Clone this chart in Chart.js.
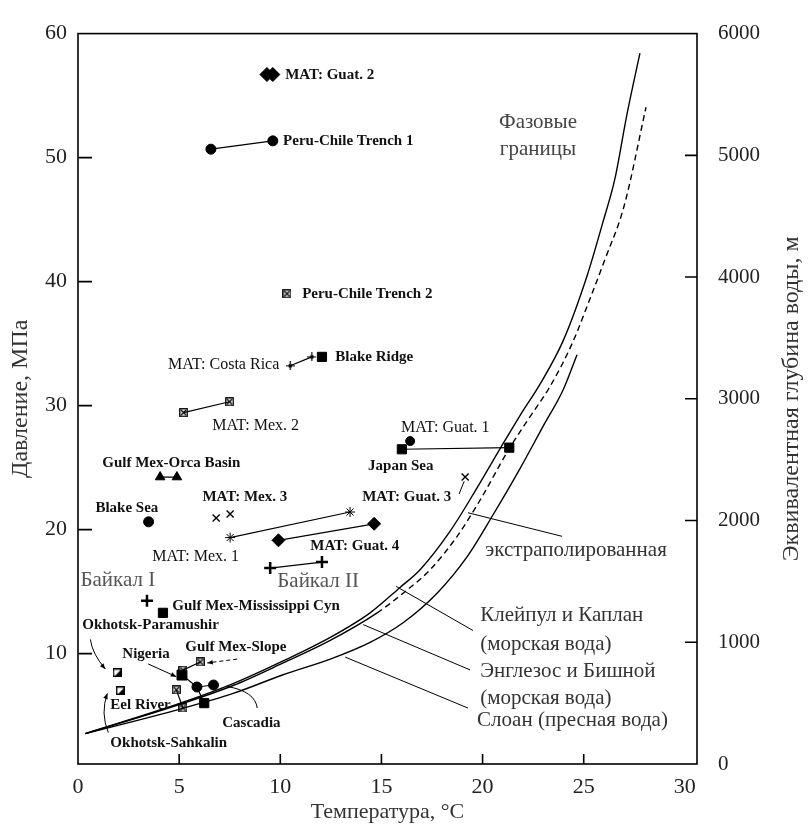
<!DOCTYPE html>
<html>
<head>
<meta charset="utf-8">
<script src="https://cdn.jsdelivr.net/npm/chart.js@4.4.0/dist/chart.umd.min.js"></script>
<style>
  html, body { margin: 0; padding: 0; background: #fff; }
  #wrap { width: 809px; height: 829px; }
</style>
</head>
<body>
<div id="wrap"><canvas id="chart"></canvas></div>
<script>
// axis ticks
const tempTicks = [0, 5, 10, 15, 20, 25, 30];
const pressureTicks = [10, 20, 30, 40, 50, 60];
const depthTicks = [0, 1000, 2000, 3000, 4000, 5000, 6000];

// phase boundaries (T, °C / P, MPa)
const englezosT = [0.36, 5.05, 7.67, 10.14, 12.47, 14.44, 15.92, 16.91, 18.39, 19.63, 20.86, 21.85, 22.84, 23.98, 25.16, 25.95, 26.54, 27.14, 27.78];
const englezosP = [3.55, 6.00, 7.58, 9.41, 11.31, 13.29, 15.34, 16.77, 19.86, 23.10, 26.51, 29.20, 31.73, 35.22, 40.44, 44.80, 48.28, 53.51, 58.42];
const kleipulT = [0.36, 5.05, 7.67, 10.14, 12.47, 14.79, 16.07, 17.41, 18.74, 19.88, 21.31, 22.35, 23.29, 24.42, 25.31, 26.05, 26.99, 28.08];
const kleipulP = [3.55, 5.92, 7.43, 9.25, 11.07, 13.29, 14.87, 16.77, 19.46, 22.39, 26.51, 29.12, 31.42, 34.98, 38.62, 41.79, 46.06, 54.06];
const sloanT = [0.36, 5.05, 7.67, 10.14, 12.47, 14.44, 16.07, 17.75, 19.23, 20.52, 21.85, 22.99, 23.98, 24.67];
const sloanP = [3.55, 5.53, 6.79, 8.30, 9.56, 10.91, 12.49, 14.87, 17.80, 21.20, 24.92, 28.33, 31.26, 34.11];
const kleipulSolidBelow = 12;

// sites (T, °C / P, MPa)
const guat2T = [9.34, 9.63], guat2P = [56.7, 56.7];
const peru1T = [6.57, 9.63], peru1P = [50.68, 51.35];
const peru2T = [10.33], peru2P = [39.02];
const costaRicaT = [10.49, 11.56], costaRicaP = [33.21, 33.93];
const blakeRidgeT = [12.06], blakeRidgeP = [33.93];
const mex2T = [5.22, 7.49], mex2P = [29.44, 30.31];
const guat1T = [16.01, 21.32], guat1P = [26.48, 26.61];
const japanSeaT = [16.42], japanSeaP = [27.14];
const orcaT = [4.06, 4.89], orcaP = [24.24, 24.24];
const blakeSeaT = [3.49], blakeSeaP = [20.63];
const mex3T = [6.83, 7.52], mex3P = [20.94, 21.26];
const mex1T = [7.52, 13.45], mex1P = [19.36, 21.42];
const guat3T = [19.14], guat3P = [24.24];
const guat4T = [9.91, 14.64], guat4P = [19.14, 20.47];
const baikal2T = [9.50, 12.06], baikal2P = [16.90, 17.38];
const baikal1T = [3.41], baikal1P = [14.26];
const mississippiT = [4.20], mississippiP = [13.29];
const paramushirT = [1.93], paramushirP = [8.46];
const sakhalinT = [2.09], sakhalinP = [7.01];
const slopeT = [6.04, 5.19], slopeP = [9.33, 8.67];
const nigeriaT = [5.14], nigeriaP = [8.27];
const cascadiaT = [5.88, 6.70], cascadiaP = [7.31, 7.47];
const cascadiaSqT = [6.24], cascadiaSqP = [6.01];
const eelT = [4.86, 5.19], eelP = [7.08, 5.62];

const SERIF = '"Liberation Serif", "DejaVu Serif", serif';
const B15 = 'bold 15px ' + SERIF;
const R16 = '16px ' + SERIF;
const RU = '21px ' + SERIF;

// text notes placed in data coordinates
const notes = [
  { t: 'MAT: Guat. 2', x: 10.24, y: 56.67, f: B15 },
  { t: 'Peru-Chile Trench 1', x: 10.14, y: 51.29, f: B15 },
  { t: 'Фазовые', x: 22.74, y: 52.87, f: RU, c: '#444', a: 'center' },
  { t: 'границы', x: 22.74, y: 50.66, f: RU, c: '#444', a: 'center' },
  { t: 'Peru-Chile Trench 2', x: 11.08, y: 39.02, f: B15 },
  { t: 'MAT: Costa Rica', x: 9.95, y: 33.32, f: R16, a: 'right' },
  { t: 'Blake Ridge', x: 12.72, y: 33.95, f: B15 },
  { t: 'MAT: Mex. 2', x: 6.64, y: 28.41, f: R16 },
  { t: 'MAT: Guat. 1', x: 15.97, y: 28.25, f: R16 },
  { t: 'Japan Sea', x: 14.34, y: 25.16, f: B15 },
  { t: 'Gulf Mex-Orca Basin', x: 1.20, y: 25.40, f: B15 },
  { t: 'MAT: Mex. 3', x: 6.15, y: 22.63, f: B15 },
  { t: 'MAT: Guat. 3', x: 14.05, y: 22.63, f: B15 },
  { t: 'Blake Sea', x: 0.86, y: 21.76, f: B15 },
  { t: 'MAT: Mex. 1', x: 3.67, y: 17.80, f: R16 },
  { t: 'MAT: Guat. 4', x: 11.48, y: 18.67, f: B15 },
  { t: 'Байкал I', x: 0.12, y: 15.90, f: RU, c: '#555' },
  { t: 'Байкал II', x: 9.85, y: 15.82, f: RU, c: '#555' },
  { t: 'Gulf Mex-Mississippi Cyn', x: 4.66, y: 13.84, f: B15 },
  { t: 'Okhotsk-Paramushir', x: 0.21, y: 12.26, f: B15 },
  { t: 'Gulf Mex-Slope', x: 5.30, y: 10.52, f: B15 },
  { t: 'Nigeria', x: 2.19, y: 9.96, f: B15 },
  { t: 'Eel River', x: 1.60, y: 5.84, f: B15 },
  { t: 'Cascadia', x: 7.13, y: 4.42, f: B15 },
  { t: 'Okhotsk-Sahkalin', x: 1.60, y: 2.76, f: B15 },
  { t: 'экстраполированная', x: 20.13, y: 18.35, f: RU, c: '#333' },
  { t: 'Клейпул и Каплан', x: 19.88, y: 13.05, f: RU, c: '#333' },
  { t: '(морская вода)', x: 19.88, y: 10.75, f: RU, c: '#333' },
  { t: 'Энглезос и Бишной', x: 19.88, y: 8.54, f: RU, c: '#333' },
  { t: '(морская вода)', x: 19.88, y: 6.40, f: RU, c: '#333' },
  { t: 'Слоан (пресная вода)', x: 19.73, y: 4.58, f: RU, c: '#333' }
];

// leader lines from notes to marks
const pointers = [
  { p: [[0.61, 11.15], [0.71, 9.96], [1.35, 8.77]], arrow: true },
  { p: [[1.50, 3.63], [1.10, 5.21], [1.45, 6.79]], arrow: true },
  { p: [[3.47, 9.17], [4.86, 8.14]], arrow: true },
  { p: [[7.87, 9.56], [6.39, 9.25]], arrow: true, dash: true },
  { p: [[7.38, 7.35], [8.76, 6.95], [8.86, 5.61]] },
  { p: [[18.84, 22.87], [19.09, 23.90]] },
  { p: [[19.28, 21.36], [23.93, 19.46]] },
  { p: [[15.73, 15.42], [19.53, 11.86]] },
  { p: [[14.10, 12.34], [19.38, 8.69]] },
  { p: [[13.21, 9.72], [19.28, 5.61]] }
];

const zip = (xs, ys) => xs.map((v, i) => ({ x: v, y: ys[i] }));

function boxedX(size) {
  const c = document.createElement('canvas');
  c.width = c.height = size;
  const g = c.getContext('2d');
  g.strokeStyle = '#000';
  g.lineWidth = 1.3;
  g.strokeRect(0.75, 0.75, size - 1.5, size - 1.5);
  g.beginPath();
  g.moveTo(2, 2); g.lineTo(size - 2, size - 2);
  g.moveTo(size - 2, 2); g.lineTo(2, size - 2);
  g.stroke();
  return c;
}

function halfSquare(size) {
  const c = document.createElement('canvas');
  c.width = c.height = size;
  const g = c.getContext('2d');
  g.strokeStyle = '#000';
  g.fillStyle = '#000';
  g.lineWidth = 1.5;
  g.strokeRect(0.75, 0.75, size - 1.5, size - 1.5);
  g.beginPath();
  g.moveTo(size, 1); g.lineTo(size, size); g.lineTo(1, size);
  g.closePath();
  g.fill();
  return c;
}

function crossDot(size) {
  const c = document.createElement('canvas');
  c.width = c.height = size;
  const g = c.getContext('2d');
  const m = size / 2;
  g.strokeStyle = '#000';
  g.fillStyle = '#000';
  g.lineWidth = 1.2;
  g.beginPath();
  g.moveTo(0, m); g.lineTo(size, m);
  g.moveTo(m, 0); g.lineTo(m, size);
  g.stroke();
  g.beginPath();
  g.arc(m, m, 2, 0, Math.PI * 2);
  g.fill();
  return c;
}

const boxX = boxedX(9);
const halfSq = halfSquare(9);
const crossDt = crossDot(9);

function site(xs, ys, style, extra) {
  return Object.assign({
    data: zip(xs, ys),
    showLine: xs.length > 1,
    borderColor: '#000',
    borderWidth: 1.2,
    pointStyle: style,
    pointRadius: 5,
    pointBackgroundColor: '#000',
    pointBorderColor: '#000',
    pointBorderWidth: 1
  }, extra || {});
}

function curve(xs, ys, extra) {
  return Object.assign({
    data: zip(xs, ys),
    showLine: true,
    borderColor: '#000',
    borderWidth: 1.4,
    pointRadius: 0,
    cubicInterpolationMode: 'monotone'
  }, extra || {});
}

const decor = {
  id: 'decor',
  afterDatasetsDraw(chart) {
    const { ctx, chartArea: a, scales: { x, y, y2 } } = chart;
    const px = v => x.getPixelForValue(v);
    const py = v => y.getPixelForValue(v);
    ctx.save();

    // frame and inward ticks
    ctx.strokeStyle = '#000';
    ctx.lineWidth = 1.6;
    ctx.strokeRect(a.left, a.top, a.right - a.left, a.bottom - a.top);
    ctx.beginPath();
    tempTicks.slice(1, -1).forEach(v => { ctx.moveTo(px(v), a.bottom); ctx.lineTo(px(v), a.bottom - 10); });
    pressureTicks.slice(0, -1).forEach(v => { ctx.moveTo(a.left, py(v)); ctx.lineTo(a.left + 14, py(v)); });
    depthTicks.slice(1, -1).forEach(v => {
      const yy = y2.getPixelForValue(v);
      ctx.moveTo(a.right, yy); ctx.lineTo(a.right - 12, yy);
    });
    ctx.stroke();

    // leader lines
    ctx.lineWidth = 1;
    pointers.forEach(l => {
      const pts = l.p.map(q => [px(q[0]), py(q[1])]);
      ctx.setLineDash(l.dash ? [4, 3] : []);
      ctx.beginPath();
      ctx.moveTo(pts[0][0], pts[0][1]);
      if (pts.length === 3) ctx.quadraticCurveTo(pts[1][0], pts[1][1], pts[2][0], pts[2][1]);
      else ctx.lineTo(pts[1][0], pts[1][1]);
      ctx.stroke();
      ctx.setLineDash([]);
      if (l.arrow) {
        const e = pts[pts.length - 1], s = pts[pts.length - 2];
        const ang = Math.atan2(e[1] - s[1], e[0] - s[0]);
        ctx.beginPath();
        ctx.moveTo(e[0], e[1]);
        ctx.lineTo(e[0] - 6 * Math.cos(ang - 0.4), e[1] - 6 * Math.sin(ang - 0.4));
        ctx.lineTo(e[0] - 6 * Math.cos(ang + 0.4), e[1] - 6 * Math.sin(ang + 0.4));
        ctx.closePath();
        ctx.fillStyle = '#000';
        ctx.fill();
      }
    });

    // notes
    ctx.textBaseline = 'middle';
    notes.forEach(n => {
      ctx.font = n.f;
      ctx.fillStyle = n.c || '#111';
      ctx.textAlign = n.a || 'left';
      ctx.fillText(n.t, px(n.x), py(n.y));
    });

    // right axis title, reading bottom to top
    ctx.translate(792, (a.top + a.bottom) / 2);
    ctx.rotate(-Math.PI / 2);
    ctx.font = '24px ' + SERIF;
    ctx.fillStyle = '#333';
    ctx.textAlign = 'center';
    ctx.fillText('Эквивалентная глубина воды, м', 0, 0);
    ctx.restore();
  }
};

const fixTicks = list => scale => { scale.ticks = list.map(v => ({ value: v })); };
const plain = v => String(v);

Chart.defaults.font.family = SERIF;
Chart.defaults.color = '#222';

new Chart(document.getElementById('chart'), {
  type: 'scatter',
  data: {
    datasets: [
      curve(englezosT, englezosP),
      curve(kleipulT, kleipulP, {
        segment: { borderDash: c => c.p0.parsed.y >= kleipulSolidBelow ? [6, 4] : undefined }
      }),
      curve(sloanT, sloanP),
      site(guat2T, guat2P, 'rectRot', { showLine: false, pointRadius: 7 }),
      site(peru1T, peru1P, 'circle'),
      site(peru2T, peru2P, boxX),
      site(costaRicaT, costaRicaP, crossDt),
      site(blakeRidgeT, blakeRidgeP, 'rect', { pointRadius: 6.5 }),
      site(mex2T, mex2P, boxX),
      site(guat1T, guat1P, 'rect', { pointRadius: 6.5 }),
      site(japanSeaT, japanSeaP, 'circle', { pointRadius: 4.5 }),
      site(orcaT, orcaP, 'triangle', { pointRadius: 5.5 }),
      site(blakeSeaT, blakeSeaP, 'circle'),
      site(mex3T, mex3P, 'crossRot', { showLine: false, pointRadius: 5, pointBorderWidth: 1.4 }),
      site(mex1T, mex1P, 'star', { pointRadius: 5 }),
      site(guat3T, guat3P, 'crossRot', { pointRadius: 5, pointBorderWidth: 1.4 }),
      site(guat4T, guat4P, 'rectRot', { pointRadius: 6.5 }),
      site(baikal2T, baikal2P, 'cross', { pointRadius: 6, pointBorderWidth: 2.5 }),
      site(baikal1T, baikal1P, 'cross', { pointRadius: 6, pointBorderWidth: 2.5 }),
      site(mississippiT, mississippiP, 'rect', { pointRadius: 6.5 }),
      site(paramushirT, paramushirP, halfSq),
      site(sakhalinT, sakhalinP, halfSq),
      site(slopeT, slopeP, boxX),
      site(nigeriaT.concat(cascadiaT), nigeriaP.concat(cascadiaP), 'circle', { pointRadius: [0, 5, 5] }),
      site(cascadiaT.slice(0, 1).concat(cascadiaSqT), cascadiaP.slice(0, 1).concat(cascadiaSqP), 'rect', { pointRadius: [0, 6.5] }),
      site(nigeriaT, nigeriaP, 'rect', { pointRadius: 7 }),
      site(eelT, eelP, boxX)
    ]
  },
  options: {
    responsive: true,
    maintainAspectRatio: false,
    animation: false,
    layout: { padding: { top: 20, left: 0, right: 0, bottom: 0 } },
    plugins: { legend: { display: false }, tooltip: { enabled: false } },
    scales: {
      x: {
        type: 'linear', position: 'bottom', min: 0, max: 30.6,
        afterBuildTicks: fixTicks(tempTicks),
        afterFit: s => { s.height = 65; },
        grid: { display: false, drawTicks: false },
        border: { display: false },
        ticks: { padding: 10, font: { size: 22 }, color: '#222', callback: plain },
        title: { display: true, text: 'Температура, °С', font: { size: 22 }, color: '#333', padding: { top: 0, bottom: 4 } }
      },
      y: {
        type: 'linear', position: 'left', min: 1.1, max: 60,
        afterBuildTicks: fixTicks(pressureTicks),
        afterFit: s => { s.width = 78; },
        grid: { display: false, drawTicks: false },
        border: { display: false },
        ticks: { padding: 11, font: { size: 22 }, color: '#222', callback: plain },
        title: { display: true, text: 'Давление, МПа', font: { size: 24 }, color: '#333', padding: { top: 6, bottom: 0 } }
      },
      y2: {
        type: 'linear', position: 'right', min: 0, max: 6000,
        afterBuildTicks: fixTicks(depthTicks),
        afterFit: s => { s.width = 112; },
        grid: { display: false, drawTicks: false },
        border: { display: false },
        ticks: { padding: 21, font: { size: 21 }, color: '#222', callback: plain }
      }
    }
  },
  plugins: [decor]
});
</script>
</body>
</html>
